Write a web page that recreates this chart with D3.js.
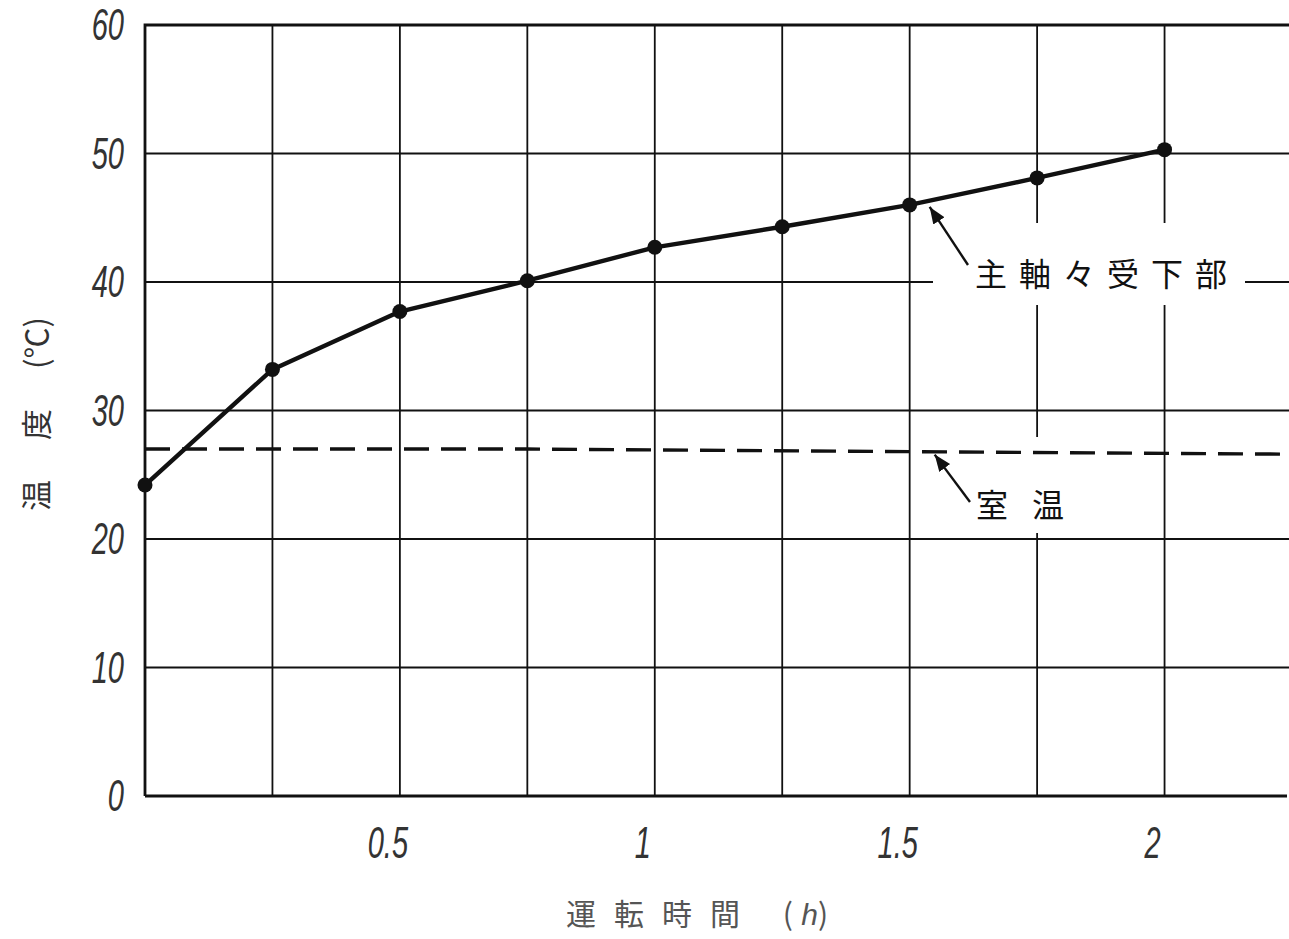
<!DOCTYPE html>
<html>
<head>
<meta charset="utf-8">
<script src="https://cdn.jsdelivr.net/npm/d3@7"></script>
<style>
  body { margin: 0; background: #fff; }
  svg { display: block; }
</style>
</head>
<body>
<script>
// running time (h) vs temperature (°C)
const hours      = [0, 0.25, 0.5, 0.75, 1.0, 1.25, 1.5, 1.75, 2.0];
const bearingTmp = [24.2, 33.2, 37.7, 40.1, 42.7, 44.3, 46.0, 48.1, 50.3];
const roomHours  = [0, 0.75, 1.5, 2.25];
const roomTmp    = [27.0, 27.0, 26.8, 26.6];

const gridX  = [0.25, 0.5, 0.75, 1.0, 1.25, 1.5, 1.75, 2.0];
const gridY  = [10, 20, 30, 40, 50];
const xTicks = [0.5, 1, 1.5, 2];
const xTickLabels = ['0.5', '1', '1.5', '2'];
const yTicks = [0, 10, 20, 30, 40, 50, 60];

const W = 1289, H = 939;
const ink = '#111';

const x = d3.scaleLinear().domain([0, 2.25]).range([145, 1292]);
const y = d3.scaleLinear().domain([0, 60]).range([796, 25]);

const svg = d3.select('body').append('svg')
    .attr('width', W)
    .attr('height', H);

// grid
const grid = svg.append('g').attr('stroke', ink).attr('stroke-width', 1.8);
grid.selectAll('.gx').data(gridX).join('line')
    .attr('x1', d => x(d)).attr('x2', d => x(d))
    .attr('y1', y(60)).attr('y2', y(0));
grid.selectAll('.gy').data(gridY).join('line')
    .attr('x1', x(0)).attr('x2', W)
    .attr('y1', d => y(d)).attr('y2', d => y(d));

// frame: left axis, top border, bottom axis
svg.append('path')
    .attr('d', `M${x(0)},${y(0)}V${y(60)}H${W}M${x(0)},${y(0)}H${W - 2}`)
    .attr('fill', 'none')
    .attr('stroke', ink)
    .attr('stroke-width', 2.8);

// white patches behind the annotations (grid is broken there)
svg.append('rect').attr('x', 933).attr('y', 223).attr('width', 312).attr('height', 82).attr('fill', '#fff');
svg.append('rect').attr('x', 960).attr('y', 437).attr('width', 130).attr('height', 96).attr('fill', '#fff');

// room temperature, dashed
const line = d3.line().x(d => x(d[0])).y(d => y(d[1]));
svg.append('path')
    .datum(roomHours.map((h, i) => [h, roomTmp[i]]))
    .attr('d', line)
    .attr('fill', 'none')
    .attr('stroke', ink)
    .attr('stroke-width', 3.4)
    .attr('stroke-dasharray', '25 12');

// bearing temperature
const pts = hours.map((h, i) => [h, bearingTmp[i]]);
svg.append('path')
    .datum(pts)
    .attr('d', line)
    .attr('fill', 'none')
    .attr('stroke', ink)
    .attr('stroke-width', 4.4)
    .attr('stroke-linejoin', 'round');
svg.selectAll('.pt').data(pts).join('circle')
    .attr('cx', d => x(d[0]))
    .attr('cy', d => y(d[1]))
    .attr('r', 7.5)
    .attr('fill', ink);

// tick labels: tall, narrow, italic numerals
const numFont = '"Liberation Sans", Arial, sans-serif';
svg.selectAll('.yt').data(yTicks).join('text')
    .attr('transform', d => `translate(124,${y(d) + 15}) scale(0.66,1)`)
    .attr('text-anchor', 'end')
    .attr('font-family', numFont)
    .attr('font-style', 'italic')
    .attr('font-size', 44)
    .attr('fill', '#333')
    .text(d => d);
svg.selectAll('.xt').data(xTicks).join('text')
    .attr('transform', d => `translate(${x(d) - 12},858) scale(0.66,1)`)
    .attr('text-anchor', 'middle')
    .attr('font-family', numFont)
    .attr('font-style', 'italic')
    .attr('font-size', 44)
    .attr('fill', '#333')
    .text((d, i) => xTickLabels[i]);

// axis titles
const cjk = '"Noto Sans CJK JP", "Noto Sans CJK SC", sans-serif';
const yt = svg.append('text')
    .attr('transform', `translate(48,414) rotate(-90)`)
    .attr('text-anchor', 'middle')
    .attr('font-family', cjk)
    .attr('font-size', 31)
    .attr('fill', '#333');
yt.append('tspan').attr('letter-spacing', 40).text('温度');
yt.append('tspan').text('(℃)');

const xt = svg.append('text')
    .attr('x', 697)
    .attr('y', 925)
    .attr('text-anchor', 'middle')
    .attr('font-family', cjk)
    .attr('font-size', 30)
    .attr('fill', '#555');
xt.append('tspan').attr('letter-spacing', 18).text('運転時間 ');
xt.append('tspan').text('(');
xt.append('tspan').attr('font-style', 'italic').attr('font-family', numFont).text(' h');
xt.append('tspan').text(')');

// annotations
svg.append('defs').append('marker')
    .attr('id', 'arr')
    .attr('viewBox', '0 0 10 10')
    .attr('refX', 10).attr('refY', 5)
    .attr('markerWidth', 7).attr('markerHeight', 7)
    .attr('orient', 'auto')
    .append('path').attr('d', 'M0,1L10,5L0,9Z').attr('fill', ink);

svg.append('line')
    .attr('x1', 968).attr('y1', 265)
    .attr('x2', x(1.5) + 20).attr('y2', y(46) + 2)
    .attr('stroke', ink).attr('stroke-width', 2.4)
    .attr('marker-end', 'url(#arr)');
svg.append('text')
    .attr('x', 975).attr('y', 286)
    .attr('font-family', cjk)
    .attr('font-size', 32)
    .attr('letter-spacing', 12)
    .attr('fill', ink)
    .text('主軸々受下部');

svg.append('line')
    .attr('x1', 970).attr('y1', 502)
    .attr('x2', x(1.5) + 25).attr('y2', y(26.8) + 3)
    .attr('stroke', ink).attr('stroke-width', 2.4)
    .attr('marker-end', 'url(#arr)');
svg.append('text')
    .attr('x', 976).attr('y', 517)
    .attr('font-family', cjk)
    .attr('font-size', 32)
    .attr('letter-spacing', 24)
    .attr('fill', ink)
    .text('室温');
</script>
</body>
</html>
